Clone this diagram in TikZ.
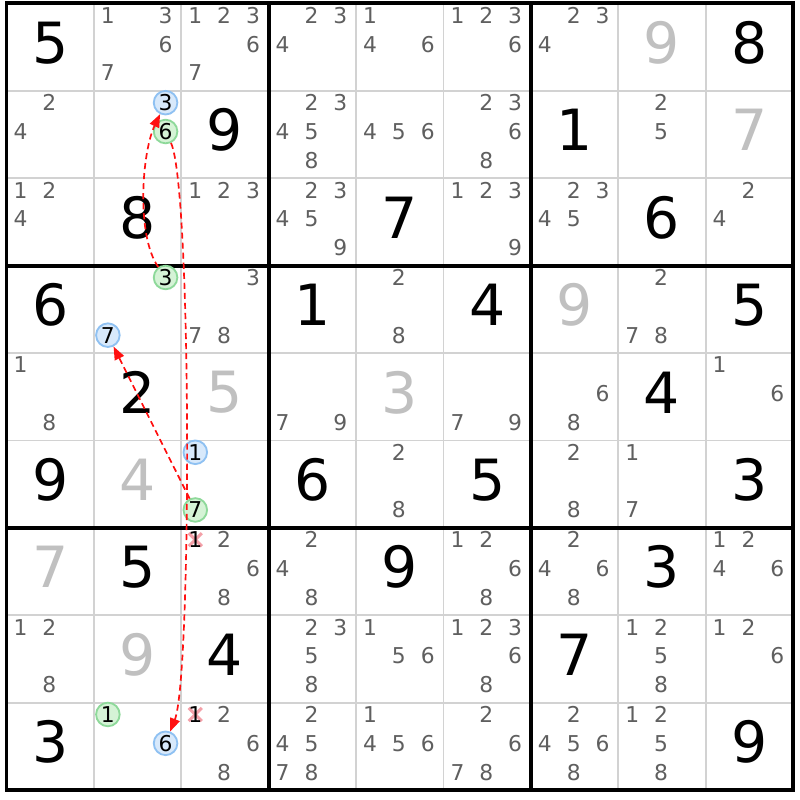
\documentclass[tikz,border=0pt]{standalone}
\usepackage{fontspec}
\setmainfont{DejaVu Sans}
\usetikzlibrary{arrows.meta}
\definecolor{candc}{HTML}{5F5F5F}
\definecolor{givgray}{HTML}{C0C0C0}
\definecolor{thinline}{HTML}{D2D2D2}
\definecolor{bfill}{HTML}{D8E9FB}
\definecolor{bdraw}{HTML}{8FC1F2}
\definecolor{gfill}{HTML}{D5F3D6}
\definecolor{gdraw}{HTML}{8ED99A}
\definecolor{xcol}{HTML}{F4A0A8}
\definecolor{linkred}{HTML}{FF1010}
\tikzset{
  cand/.style={inner sep=0pt, text=candc, font=\fontsize{7.1}{8}\selectfont},
  givb/.style={inner sep=0pt, text=black, font=\fontsize{18.5}{20}\selectfont},
  givg/.style={givb, text=givgray},
  bcirc/.style={circle, inner sep=0pt, minimum size=0.27cm, fill=bfill, draw=bdraw, line width=0.6pt, text=black, font=\fontsize{7.1}{8}\selectfont},
  gcirc/.style={bcirc, fill=gfill, draw=gdraw},
  xmark/.style={draw=xcol, line width=1pt},
  link/.style={draw=linkred, dash pattern=on 0.07cm off 0.045cm, line width=0.55pt, -{Triangle[length=0.15cm,width=0.115cm]}},
  thin/.style={draw=thinline, line width=0.6pt},
  thick/.style={draw=black, line width=1.3pt}
}
\newcommand\CandXY[3]{%
  \pgfmathsetmacro\cx{#1+0.16+0.33*mod(#3-1,3)}%
  \pgfmathsetmacro\cy{-#2-0.135-0.33*div(#3-1,3)}}
\newcommand\Cands[3]{\foreach \d in {#3}{\CandXY{#1}{#2}{\d}\node[cand] (k-#1-#2-\d) at (\cx,\cy) {\d};}}
\newcommand\GivB[3]{\node[givb] (g-#1-#2) at (#1+0.5,-#2-0.45) {#3};}
\newcommand\GivG[3]{\node[givg] (g-#1-#2) at (#1+0.5,-#2-0.45) {#3};}
\newcommand\Crossed[3]{\CandXY{#1}{#2}{#3}%
  \draw[xmark] (\cx-0.075,\cy-0.075) -- (\cx+0.075,\cy+0.075) (\cx-0.075,\cy+0.075) -- (\cx+0.075,\cy-0.075);
  \node[cand,text=black] (x-#1-#2) at (\cx,\cy) {#3};}
\newcommand\Circ[5]{\CandXY{#3}{#4}{#5}\node[#1] (#2) at (\cx,\cy) {#5};}
\begin{document}
\begin{tikzpicture}
\useasboundingbox (-0.0744,0.04) rectangle (9.079,-9.113);
\fill[white] (-0.0744,0.04) rectangle (9.079,-9.113);
% thin grid
\foreach \i in {1,2,4,5,7,8} {
  \draw[thin] (\i,0) -- (\i,-9);
  \draw[thin] (0,-\i) -- (9,-\i);
}
\foreach \i in {3,6} {
  \draw[thick] (\i,0) -- (\i,-9);
  \draw[thick] (0,-\i) -- (9,-\i);
}
\draw[thick] (0,0) rectangle (9,-9);
% row 0
\GivB{0}{0}{5} \Cands{1}{0}{1,3,6,7} \Cands{2}{0}{1,2,3,6,7} \Cands{3}{0}{2,3,4}
\Cands{4}{0}{1,4,6} \Cands{5}{0}{1,2,3,6} \Cands{6}{0}{2,3,4} \GivG{7}{0}{9} \GivB{8}{0}{8}
% row 1
\Cands{0}{1}{2,4} \Circ{bcirc}{b3}{1}{1}{3} \Circ{gcirc}{gr6}{1}{1}{6} \GivB{2}{1}{9}
\Cands{3}{1}{2,3,4,5,8} \Cands{4}{1}{4,5,6} \Cands{5}{1}{2,3,6,8} \GivB{6}{1}{1}
\Cands{7}{1}{2,5} \GivG{8}{1}{7}
% row 2
\Cands{0}{2}{1,2,4} \GivB{1}{2}{8} \Cands{2}{2}{1,2,3} \Cands{3}{2}{2,3,4,5,9}
\GivB{4}{2}{7} \Cands{5}{2}{1,2,3,9} \Cands{6}{2}{2,3,4,5} \GivB{7}{2}{6} \Cands{8}{2}{2,4}
% row 3
\GivB{0}{3}{6} \Circ{gcirc}{gr3}{1}{3}{3} \Circ{bcirc}{b7}{1}{3}{7} \Cands{2}{3}{3,7,8}
\GivB{3}{3}{1} \Cands{4}{3}{2,8} \GivB{5}{3}{4} \GivG{6}{3}{9} \Cands{7}{3}{2,7,8} \GivB{8}{3}{5}
% row 4
\Cands{0}{4}{1,8} \GivB{1}{4}{2} \GivG{2}{4}{5} \Cands{3}{4}{7,9} \GivG{4}{4}{3}
\Cands{5}{4}{7,9} \Cands{6}{4}{6,8} \GivB{7}{4}{4} \Cands{8}{4}{1,6}
% row 5
\GivB{0}{5}{9} \GivG{1}{5}{4} \Circ{bcirc}{b1}{2}{5}{1} \Circ{gcirc}{gr7}{2}{5}{7}
\GivB{3}{5}{6} \Cands{4}{5}{2,8} \GivB{5}{5}{5} \Cands{6}{5}{2,8} \Cands{7}{5}{1,7} \GivB{8}{5}{3}
% row 6
\GivG{0}{6}{7} \GivB{1}{6}{5} \Crossed{2}{6}{1} \Cands{2}{6}{2,6,8} \Cands{3}{6}{2,4,8}
\GivB{4}{6}{9} \Cands{5}{6}{1,2,6,8} \Cands{6}{6}{2,4,6,8} \GivB{7}{6}{3} \Cands{8}{6}{1,2,4,6}
% row 7
\Cands{0}{7}{1,2,8} \GivG{1}{7}{9} \GivB{2}{7}{4} \Cands{3}{7}{2,3,5,8} \Cands{4}{7}{1,5,6}
\Cands{5}{7}{1,2,3,6,8} \GivB{6}{7}{7} \Cands{7}{7}{1,2,5,8} \Cands{8}{7}{1,2,6}
% row 8
\GivB{0}{8}{3} \Circ{gcirc}{gr1}{1}{8}{1} \Circ{bcirc}{b6}{1}{8}{6} \Crossed{2}{8}{1}
\Cands{2}{8}{2,6,8} \Cands{3}{8}{2,4,5,7,8} \Cands{4}{8}{1,4,5,6} \Cands{5}{8}{2,6,7,8}
\Cands{6}{8}{2,4,5,6,8} \Cands{7}{8}{1,2,5,8} \GivB{8}{8}{9}
% links
\draw[link] (gr3) .. controls (1.48,-2.65) and (1.55,-1.7) .. (b3);
\draw[link] (gr6) .. controls (2.12,-2.1) and (2.12,-7.7) .. (b6);
\draw[link] (gr7) -- (b7);
\end{tikzpicture}
\end{document}
